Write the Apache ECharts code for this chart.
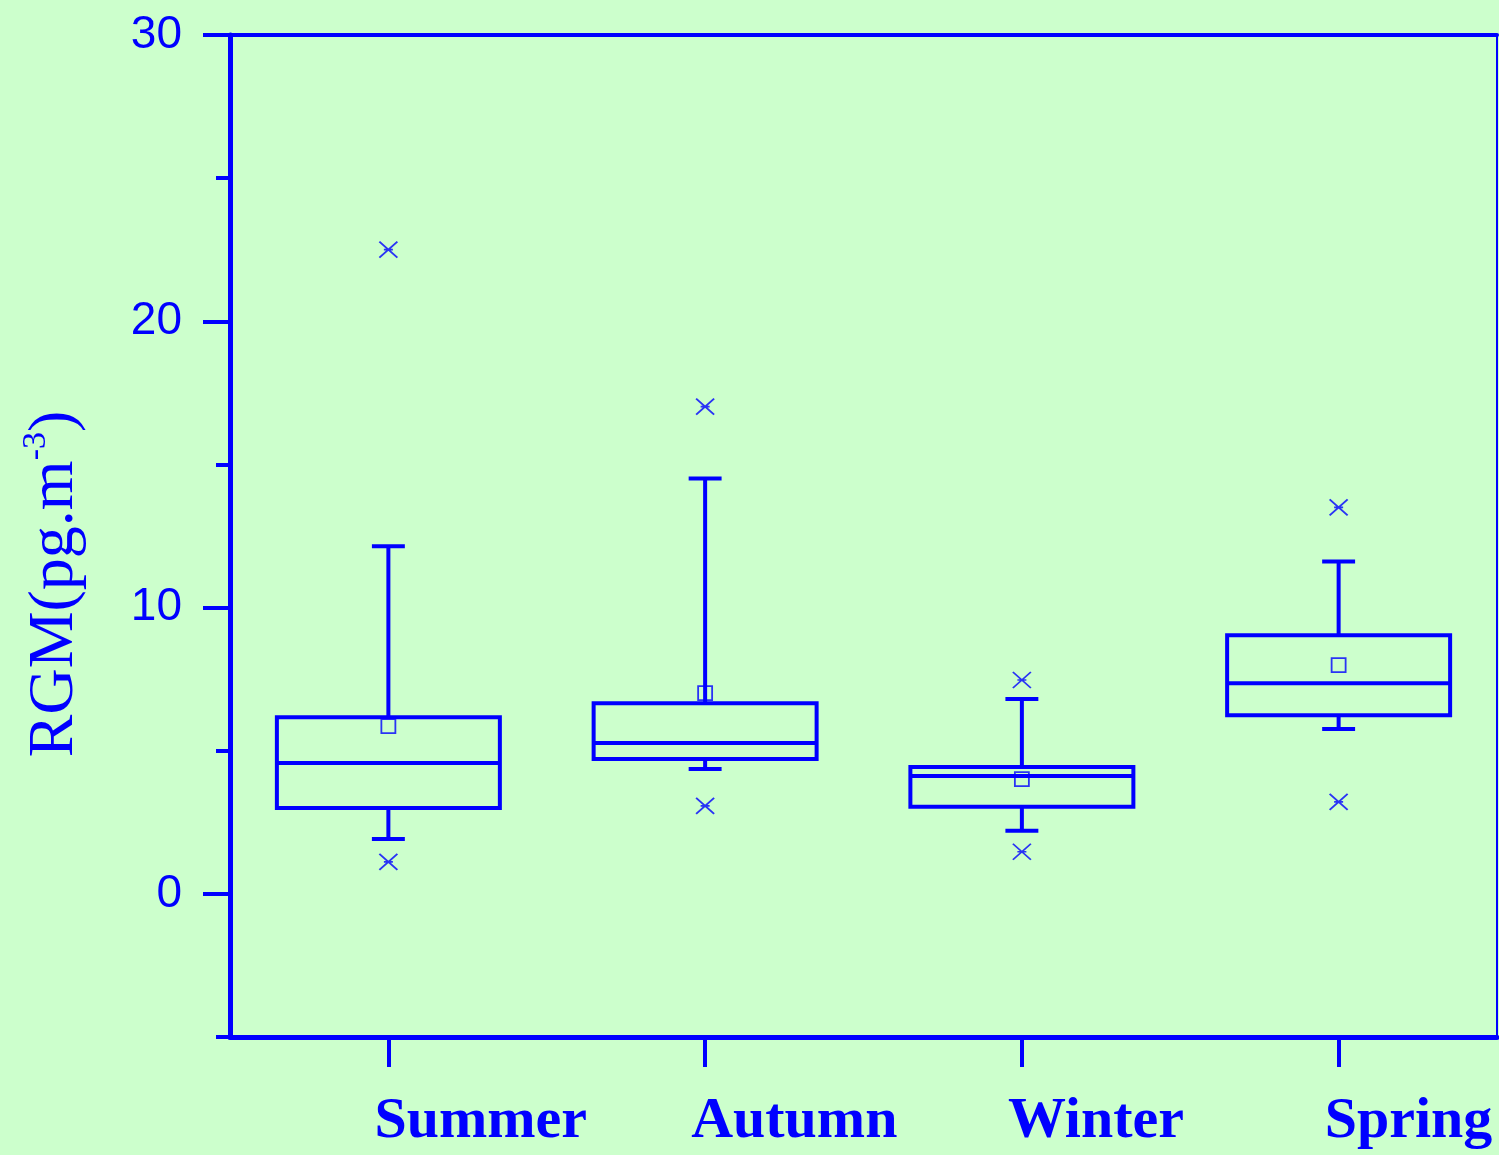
<!DOCTYPE html>
<html><head><meta charset="utf-8">
<script src="https://cdn.jsdelivr.net/npm/echarts@6/dist/echarts.min.js"></script>
<style>html,body{margin:0;padding:0;background:#CCFFCC;} #c{width:1499px;height:1155px;}</style>
</head><body><div id="c"></div>
<script>
const categories = ['Summer', 'Autumn', 'Winter', 'Spring'];
const whiskerLow  = [1.92, 4.36, 2.20, 5.76];
const q1          = [3.00, 4.71, 3.04, 6.24];
const median      = [4.57, 5.27, 4.12, 7.36];
const q3          = [6.17, 6.66, 4.43, 9.03];
const whiskerHigh = [12.14, 14.51, 6.81, 11.61];
const means       = [5.86, 7.01, 4.01, 7.99];
const outlierLow  = [1.12, 3.07, 1.47, 3.21];
const outlierHigh = [22.50, 17.02, 7.47, 13.50];
const yTickLabels = [0, 10, 20, 30];

const BLUE = '#0000FF';
const BG = '#CCFFCC';

const boxData = categories.map((c, i) => [i, whiskerLow[i], q1[i], median[i], q3[i], whiskerHigh[i]]);
const meanData = categories.map((c, i) => [i, means[i]]);
const outlierData = [];
categories.forEach((c, i) => { outlierData.push([i, outlierLow[i]]); outlierData.push([i, outlierHigh[i]]); });

function renderBox(params, api) {
  const i = api.value(0);
  const x = api.coord([i, 0])[0];
  const band = api.size([1, 0])[0];
  const bw = band * 0.704, cw = band * 0.104;
  const yLo = api.coord([i, api.value(1)])[1];
  const yQ1 = api.coord([i, api.value(2)])[1];
  const yMed = api.coord([i, api.value(3)])[1];
  const yQ3 = api.coord([i, api.value(4)])[1];
  const yHi = api.coord([i, api.value(5)])[1];
  const st = { stroke: BLUE, lineWidth: 4, fill: null };
  return {
    type: 'group',
    children: [
      { type: 'line', shape: { x1: x, y1: yHi, x2: x, y2: yQ3 }, style: st },
      { type: 'line', shape: { x1: x, y1: yQ1, x2: x, y2: yLo }, style: st },
      { type: 'line', shape: { x1: x - cw / 2, y1: yHi, x2: x + cw / 2, y2: yHi }, style: st },
      { type: 'line', shape: { x1: x - cw / 2, y1: yLo, x2: x + cw / 2, y2: yLo }, style: st },
      { type: 'rect', shape: { x: x - bw / 2, y: yQ3, width: bw, height: yQ1 - yQ3 }, style: st },
      { type: 'line', shape: { x1: x - bw / 2, y1: yMed, x2: x + bw / 2, y2: yMed }, style: st }
    ]
  };
}

const chart = echarts.init(document.getElementById('c'), null, { renderer: 'canvas' });
chart.setOption({
  backgroundColor: BG,
  animation: false,
  grid: { left: 230, top: 35, right: 2, bottom: 118, containLabel: false },
  xAxis: [
    {
      type: 'category', data: categories, position: 'bottom', boundaryGap: true,
      axisLine: { show: true, onZero: false, lineStyle: { color: BLUE, width: 5 } },
      axisTick: { show: true, interval: 0, alignWithLabel: true, inside: false, length: 30, lineStyle: { color: BLUE, width: 4 } },
      axisLabel: { interval: 0, color: BLUE, fontFamily: 'Liberation Serif', fontWeight: 'bold', fontSize: 58, margin: 56, align: 'left', padding: [0, 0, 0, -14] },
      splitLine: { show: false }
    },
    {
      type: 'category', data: categories, position: 'top', boundaryGap: true,
      axisLine: { onZero: false, lineStyle: { color: BLUE, width: 4 } },
      axisTick: { show: false }, axisLabel: { show: false }, splitLine: { show: false }
    }
  ],
  yAxis: [
    {
      type: 'value', min: -5, max: 30, interval: 5, position: 'left',
      axisLine: { show: true, onZero: false, lineStyle: { color: BLUE, width: 5 } },
      axisTick: { show: true, length: 14, lineStyle: { color: BLUE, width: 4 } },
      axisLabel: { customValues: yTickLabels, color: BLUE, fontFamily: 'Liberation Sans', fontSize: 46, margin: 48 },
      splitLine: { show: false },
      name: '{a|RGM(pg.m}{s|-3}{a|)}',
      nameLocation: 'middle', nameRotate: 90, nameGap: 139,
      nameTextStyle: {
        color: BLUE, fontFamily: 'Liberation Serif', fontSize: 64, padding: [0, 96, 0, 0],
        rich: {
          a: { color: BLUE, fontFamily: 'Liberation Serif', fontSize: 64, lineHeight: 72 },
          s: { color: BLUE, fontFamily: 'Liberation Serif', fontSize: 34, lineHeight: 34, verticalAlign: 'top' }
        }
      }
    },
    {
      type: 'value', min: -5, max: 30, position: 'left',
      axisLine: { show: false },
      axisTick: { show: true, customValues: yTickLabels, length: 27, lineStyle: { color: BLUE, width: 4 } },
      axisLabel: { show: false }, splitLine: { show: false }
    },
    {
      type: 'value', min: -5, max: 30, position: 'right',
      axisLine: { show: true, onZero: false, lineStyle: { color: BLUE, width: 2 } },
      axisTick: { show: false }, axisLabel: { show: false }, splitLine: { show: false }
    }
  ],
  series: [
    { type: 'custom', xAxisIndex: 0, yAxisIndex: 0, renderItem: renderBox, data: boxData, clip: false, z: 2 },
    {
      type: 'scatter', xAxisIndex: 0, yAxisIndex: 0, data: meanData, symbol: 'rect', symbolSize: 14, z: 3,
      itemStyle: { color: 'rgba(0,0,0,0)', borderColor: BLUE, borderWidth: 1.8 }
    },
    {
      type: 'scatter', xAxisIndex: 0, yAxisIndex: 0, data: outlierData, z: 3,
      symbol: 'path://M0,0L16,14M16,0L0,14M4,7L12,7', symbolSize: [18, 16],
      itemStyle: { color: 'rgba(0,0,0,0)', borderColor: BLUE, borderWidth: 1.8 }
    }
  ]
});
</script>
</body></html>
